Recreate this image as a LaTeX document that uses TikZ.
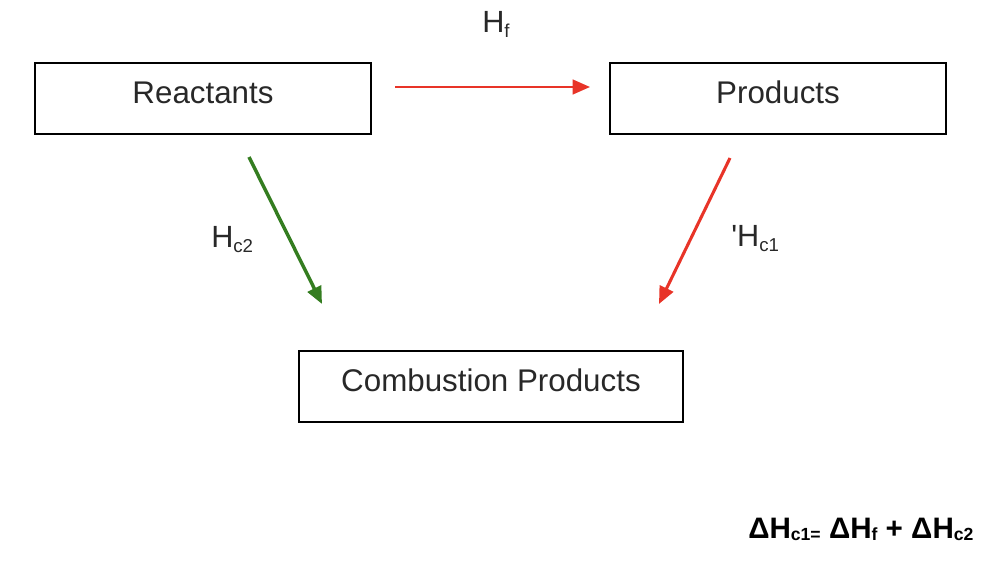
\documentclass[tikz,border=0pt]{standalone}
\usepackage{fontspec}
\setmainfont{Liberation Sans}
\usetikzlibrary{arrows.meta}
\definecolor{arrred}{RGB}{232,52,40}
\definecolor{arrgreen}{RGB}{52,125,32}
\definecolor{txtgray}{RGB}{40,40,40}
\newcommand{\lsub}[1]{\raisebox{-3.75pt}{\fontsize{14}{16}\selectfont #1}}
\newcommand{\fsub}[1]{\raisebox{-1.5pt}{\fontsize{13.2}{16}\selectfont\bfseries #1}}
\begin{document}
\begin{tikzpicture}[x=0.75pt,y=-0.75pt,
  box/.style={draw=black,line width=1.1pt,minimum width=252pt,minimum height=53.25pt,
    inner sep=0pt,text height=15.75pt,text depth=9pt,text=txtgray,font=\fontsize{23.5}{28}\selectfont},
  conn/.style={line width=2.2pt,-{Triangle[length=13pt,width=11pt]}},
  lbl/.style={anchor=base west,inner sep=0pt,text=txtgray,font=\fontsize{23}{28}\selectfont}]
\useasboundingbox (0,0) rectangle (1004,564);
\node[box] (react) at (203,98.5) {Reactants};
\node[box] (prod) at (778,98.5) {Products};
\node[box,minimum width=288pt] (comb) at (491,386.5) {Combustion Products};
\coordinate (a1s) at (395,87);
\coordinate (a1e) at (590,87);
\coordinate (a2s) at (249,157);
\coordinate (a2e) at (322,304);
\coordinate (a3s) at (730,158);
\coordinate (a3e) at (659,304);
\draw[conn,color=arrred,line width=1.7pt] (a1s) -- (a1e);
\draw[conn,color=arrgreen,line width=2.6pt] (a2s) -- (a2e);
\draw[conn,color=arrred,line width=2.3pt] (a3s) -- (a3e);
\node[lbl] (hf) at (482,32) {H\lsub{f}};
\node[lbl] (hc2) at (211,247) {H\lsub{c2}};
\node[lbl] (hc1) at (731,246) {\textquotesingle H\lsub{c1}};
\node[anchor=base west,inner sep=0pt,font=\fontsize{22.2}{28}\selectfont\bfseries] (eq) at (748,538)
  {ΔH\fsub{c1=} ΔH\fsub{f} + ΔH\fsub{c2}};
\end{tikzpicture}
\end{document}
